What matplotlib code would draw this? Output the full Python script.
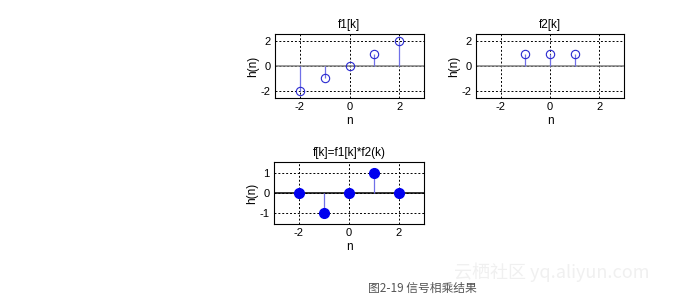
import matplotlib
matplotlib.use("Agg")
import matplotlib.pyplot as plt

plt.rcParams['font.family'] = ['Liberation Sans', 'DejaVu Sans', 'Noto Sans CJK SC']
plt.rcParams['axes.unicode_minus'] = False

n = [-2, -1, 0, 1, 2]
f1 = [-2, -1, 0, 1, 2]
n2 = [-1, 0, 1]
f2 = [1, 1, 1]
f = [0, -1, 0, 1, 0]
titles = ["f1[k]", "f2[k]", "f[k]=f1[k]*f2(k)"]
caption = "图2-19 信号相乘结果"
watermark = "云栖社区 yq.aliyun.com"

W, H = 689, 302
fig = plt.figure(figsize=(W / 100, H / 100), dpi=100)

def ax_at(x0, y0, x1, y1):
    return fig.add_axes([x0 / W, 1 - y1 / H, (x1 - x0) / W, (y1 - y0) / H])

stem_c = '#7070e8'
mark_c = '#2a2ad0'

def style(ax, title, ylim, yticks, zero_c):
    ax.set_xlim(-3, 3)
    ax.set_ylim(*ylim)
    ax.set_xticks([-2, 0, 2])
    ax.set_yticks(yticks)
    ax.grid(True, linestyle=(0, (2, 2)), color='black', linewidth=0.7, zorder=0.5)
    ax.axhline(0, color=zero_c, linewidth=1.1, zorder=2.5)
    ax.tick_params(labelsize=8, length=0, pad=3)
    ax.set_title(title, fontsize=8.5, pad=4)
    ax.set_xlabel("n", fontsize=8.5, labelpad=2)
    ax.set_ylabel("h(n)", fontsize=8.5, labelpad=1)
    for s in ax.spines.values():
        s.set_linewidth(0.8)

ax1 = ax_at(275, 34, 424, 98)
style(ax1, titles[0], (-2.6, 2.6), [-2, 0, 2], '#808080')
ax1.vlines(n, 0, f1, color=stem_c, linewidth=0.9, zorder=3)
ax1.plot(n, f1, 'o', mfc='none', mec=mark_c, ms=6, mew=0.8, zorder=4)

ax2 = ax_at(476, 34, 624, 98)
style(ax2, titles[1], (-2.6, 2.6), [-2, 0, 2], '#808080')
ax2.vlines(n2, 0, f2, color=stem_c, linewidth=0.9, zorder=3)
ax2.plot(n2, f2, 'o', mfc='none', mec=mark_c, ms=6, mew=0.8, zorder=4)

ax3 = ax_at(274, 162, 424, 224)
style(ax3, titles[2], (-1.55, 1.55), [-1, 0, 1], 'black')
ax3.vlines(n, 0, f, color=stem_c, linewidth=0.9, zorder=3)
ax3.plot(n, f, 'o', color='#0000ee', ms=7, zorder=4)

fig.text(368 / W, 1 - 288 / H, caption, fontsize=8.5, color='#555555',
         family=['Noto Sans CJK SC', 'DejaVu Sans'], va='center', ha='left')
fig.text(454 / W, 1 - 272 / H, watermark, fontsize=13, color='#f0f0f0',
         family=['Noto Sans CJK SC', 'DejaVu Sans'], va='center', ha='left')

fig.savefig("out.png", dpi=100)
